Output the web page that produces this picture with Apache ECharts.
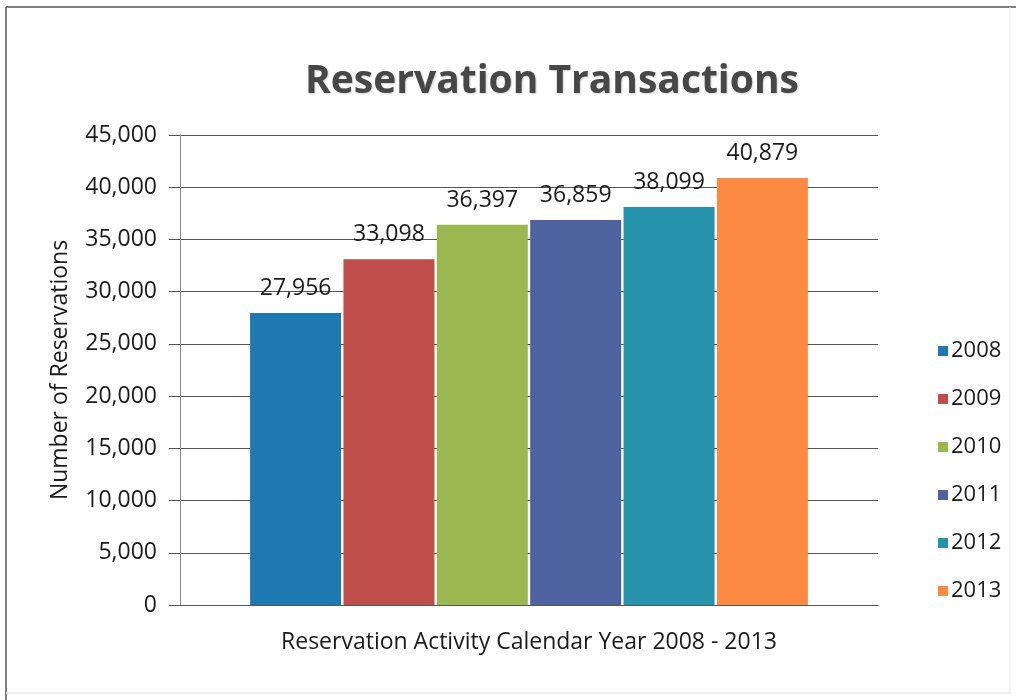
<!DOCTYPE html>
<html>
<head>
<meta charset="utf-8">
<script src="https://cdn.jsdelivr.net/npm/echarts@6/dist/echarts.min.js"></script>
<style>
  html, body { margin: 0; padding: 0; background: #fff; }
  #chart { width: 1016px; height: 700px; }
</style>
</head>
<body>
<div id="chart"></div>
<script>
// Annual reservation totals, one bar per year
const years = ['2008', '2009', '2010', '2011', '2012', '2013'];
const reservations = [27956, 33098, 36397, 36859, 38099, 40879];
const yearColors = ['#1e78b2', '#bf4d49', '#9ab84f', '#4f62a0', '#2692ab', '#fd8a43'];
const categoryLabel = ['Reservation Activity Calendar Year 2008 - 2013'];
const yTicks = { min: 0, max: 45000, step: 5000 };

const FONT = '"Open Sans", "Noto Sans", sans-serif';

const chart = echarts.init(document.getElementById('chart'), null, { renderer: 'canvas' });

const series = years.map((y, i) => ({
  name: y,
  type: 'bar',
  data: [reservations[i]],
  barWidth: 91,
  barGap: '2.6%',
  itemStyle: { color: yearColors[i] },
  label: {
    show: true,
    position: 'top',
    distance: 13,
    fontFamily: FONT,
    fontSize: 23,
    color: '#1a1a1a',
    formatter: p => p.value.toLocaleString('en-US')
  }
}));

chart.setOption({
  animation: false,
  backgroundColor: '#ffffff',
  title: {
    text: 'Reservation Transactions',
    left: 547,
    top: 57,
    textAlign: 'center',
    textStyle: {
      fontFamily: FONT,
      fontSize: 39,
      fontWeight: 'bold',
      color: '#474747',
      textShadowColor: 'rgba(0,0,0,0.18)',
      textShadowBlur: 2,
      textShadowOffsetX: 1,
      textShadowOffsetY: 1
    }
  },
  legend: {
    orient: 'vertical',
    left: 933,
    top: 331,
    itemWidth: 10,
    itemHeight: 10,
    itemGap: 18,
    icon: 'rect',
    textStyle: { fontFamily: FONT, fontSize: 22, lineHeight: 30, color: '#1a1a1a', padding: [0, 0, 0, -2] },
    data: years
  },
  grid: { left: 180, right: 138, top: 135, bottom: 95, containLabel: false },
  xAxis: {
    type: 'category',
    data: categoryLabel,
    axisLine: { show: true, lineStyle: { color: '#555', width: 1.2 } },
    axisTick: { show: false },
    axisLabel: {
      show: true,
      fontFamily: FONT,
      fontSize: 23,
      color: '#1a1a1a',
      margin: 26
    }
  },
  yAxis: {
    type: 'value',
    min: yTicks.min,
    max: yTicks.max,
    interval: yTicks.step,
    name: 'Number of Reservations',
    nameLocation: 'middle',
    nameGap: 108,
    nameTextStyle: { fontFamily: FONT, fontSize: 23, color: '#1a1a1a' },
    axisLine: { show: true, lineStyle: { color: '#8a8a8a', width: 1 } },
    axisTick: { show: true, inside: false, length: 11, lineStyle: { color: '#555' } },
    splitLine: { show: true, lineStyle: { color: '#555', width: 1.2 } },
    axisLabel: {
      fontFamily: FONT,
      fontSize: 23,
      color: '#1a1a1a',
      margin: 23,
      formatter: v => v.toLocaleString('en-US')
    }
  },
  graphic: [
    { type: 'line', shape: { x1: 6, y1: 7, x2: 1016, y2: 7 }, style: { stroke: '#555', lineWidth: 1.5 } },
    { type: 'line', shape: { x1: 6, y1: 7, x2: 6, y2: 700 }, style: { stroke: '#555', lineWidth: 1.5 } },
    { type: 'line', shape: { x1: 1010, y1: 7, x2: 1010, y2: 693 }, style: { stroke: '#e6e6e6', lineWidth: 1 } },
    { type: 'line', shape: { x1: 6, y1: 693, x2: 1010, y2: 693 }, style: { stroke: '#e6e6e6', lineWidth: 1 } }
  ],
  series: series
});
</script>
</body>
</html>
